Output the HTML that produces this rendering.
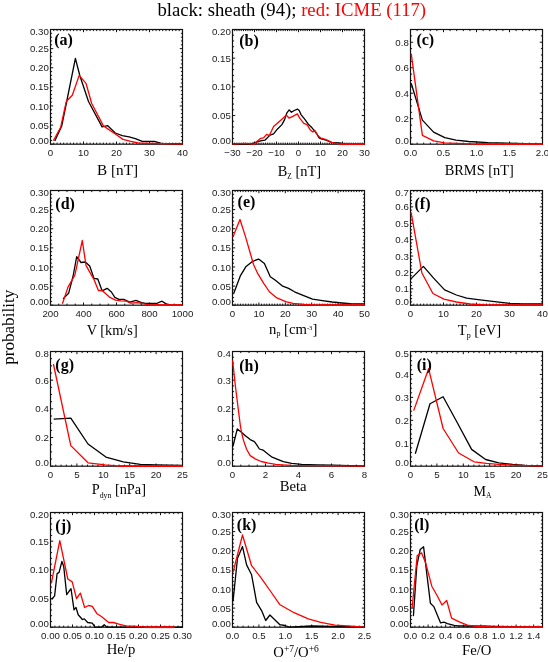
<!DOCTYPE html><html><head><meta charset="utf-8"><style>html,body{margin:0;padding:0;background:#fff;width:548px;height:662px;overflow:hidden}svg{display:block;will-change:transform}.tl{font-family:"Liberation Sans",sans-serif;font-size:9.7px;fill:#1a1a1a}.xt{font-family:"Liberation Serif",serif;font-size:14.7px;fill:#000}.pl{font-family:"Liberation Serif",serif;font-size:16px;font-weight:bold;fill:#000}.mt{font-family:"Liberation Serif",serif;font-size:18.7px;fill:#000}.yl{font-family:"Liberation Serif",serif;font-size:17.1px;fill:#000}</style></head><body>
<svg width="548" height="662" viewBox="0 0 548 662">
<rect width="548" height="662" fill="#fff"/>
<text x="157.4" y="16.4" class="mt">black: sheath (94); <tspan fill="#f00">red: ICME (117)</tspan></text>
<text transform="translate(14.2,327.3) rotate(-90)" text-anchor="middle" class="yl">probability</text>
<g><path d="M50.50 144.20v-2.7M50.50 29.50v2.7M53.80 144.20v-1.6M53.80 29.50v1.6M57.10 144.20v-1.6M57.10 29.50v1.6M60.40 144.20v-1.6M60.40 29.50v1.6M63.70 144.20v-1.6M63.70 29.50v1.6M67.00 144.20v-1.6M67.00 29.50v1.6M70.30 144.20v-1.6M70.30 29.50v1.6M73.60 144.20v-1.6M73.60 29.50v1.6M76.90 144.20v-1.6M76.90 29.50v1.6M80.20 144.20v-1.6M80.20 29.50v1.6M83.50 144.20v-2.7M83.50 29.50v2.7M86.80 144.20v-1.6M86.80 29.50v1.6M90.10 144.20v-1.6M90.10 29.50v1.6M93.40 144.20v-1.6M93.40 29.50v1.6M96.70 144.20v-1.6M96.70 29.50v1.6M100.00 144.20v-1.6M100.00 29.50v1.6M103.30 144.20v-1.6M103.30 29.50v1.6M106.60 144.20v-1.6M106.60 29.50v1.6M109.90 144.20v-1.6M109.90 29.50v1.6M113.20 144.20v-1.6M113.20 29.50v1.6M116.50 144.20v-2.7M116.50 29.50v2.7M119.80 144.20v-1.6M119.80 29.50v1.6M123.10 144.20v-1.6M123.10 29.50v1.6M126.40 144.20v-1.6M126.40 29.50v1.6M129.70 144.20v-1.6M129.70 29.50v1.6M133.00 144.20v-1.6M133.00 29.50v1.6M136.30 144.20v-1.6M136.30 29.50v1.6M139.60 144.20v-1.6M139.60 29.50v1.6M142.90 144.20v-1.6M142.90 29.50v1.6M146.20 144.20v-1.6M146.20 29.50v1.6M149.50 144.20v-2.7M149.50 29.50v2.7M152.80 144.20v-1.6M152.80 29.50v1.6M156.10 144.20v-1.6M156.10 29.50v1.6M159.40 144.20v-1.6M159.40 29.50v1.6M162.70 144.20v-1.6M162.70 29.50v1.6M166.00 144.20v-1.6M166.00 29.50v1.6M169.30 144.20v-1.6M169.30 29.50v1.6M172.60 144.20v-1.6M172.60 29.50v1.6M175.90 144.20v-1.6M175.90 29.50v1.6M179.20 144.20v-1.6M179.20 29.50v1.6M182.50 144.20v-2.7M182.50 29.50v2.7M50.50 144.20h2.7M182.50 144.20h-2.7M50.50 140.38h1.6M182.50 140.38h-1.6M50.50 136.55h1.6M182.50 136.55h-1.6M50.50 132.73h1.6M182.50 132.73h-1.6M50.50 128.91h1.6M182.50 128.91h-1.6M50.50 125.08h2.7M182.50 125.08h-2.7M50.50 121.26h1.6M182.50 121.26h-1.6M50.50 117.44h1.6M182.50 117.44h-1.6M50.50 113.61h1.6M182.50 113.61h-1.6M50.50 109.79h1.6M182.50 109.79h-1.6M50.50 105.97h2.7M182.50 105.97h-2.7M50.50 102.14h1.6M182.50 102.14h-1.6M50.50 98.32h1.6M182.50 98.32h-1.6M50.50 94.50h1.6M182.50 94.50h-1.6M50.50 90.67h1.6M182.50 90.67h-1.6M50.50 86.85h2.7M182.50 86.85h-2.7M50.50 83.03h1.6M182.50 83.03h-1.6M50.50 79.20h1.6M182.50 79.20h-1.6M50.50 75.38h1.6M182.50 75.38h-1.6M50.50 71.56h1.6M182.50 71.56h-1.6M50.50 67.73h2.7M182.50 67.73h-2.7M50.50 63.91h1.6M182.50 63.91h-1.6M50.50 60.09h1.6M182.50 60.09h-1.6M50.50 56.26h1.6M182.50 56.26h-1.6M50.50 52.44h1.6M182.50 52.44h-1.6M50.50 48.62h2.7M182.50 48.62h-2.7M50.50 44.79h1.6M182.50 44.79h-1.6M50.50 40.97h1.6M182.50 40.97h-1.6M50.50 37.15h1.6M182.50 37.15h-1.6M50.50 33.32h1.6M182.50 33.32h-1.6M50.50 29.50h2.7M182.50 29.50h-2.7" stroke="#111" stroke-width="1.0" fill="none"/><rect x="50.5" y="29.5" width="132.0" height="114.7" fill="none" stroke="#111" stroke-width="1.2"/><path d="M54.8 141.0 L61.7 126.0 L66.6 102.0 L75.4 58.4 L79.8 75.5 L88.5 101.5 L102.1 126.9 L107.7 125.7 L115.3 133.0 L122.2 135.6 L129.1 136.8 L135.3 138.7 L142.2 141.4 L154.4 141.4 L161.3 143.3 L182.5 144.2" stroke="#000" stroke-width="1.3" fill="none" stroke-linejoin="round"/><path d="M53.3 140.7 L60.7 127.2 L66.3 101.5 L72.3 95.3 L79.2 75.4 L86.0 83.3 L91.6 103.3 L103.4 125.9 L115.3 134.0 L123.0 139.4 L130.7 141.4 L138.3 143.0 L182.5 144.2" stroke="#f00" stroke-width="1.3" fill="none" stroke-linejoin="round"/><text x="50.50" y="156.27" text-anchor="middle" class="tl">0</text><text x="83.50" y="156.27" text-anchor="middle" class="tl">10</text><text x="116.50" y="156.27" text-anchor="middle" class="tl">20</text><text x="149.50" y="156.27" text-anchor="middle" class="tl">30</text><text x="182.50" y="156.27" text-anchor="middle" class="tl">40</text><text x="48.80" y="144.42" text-anchor="end" class="tl">0.00</text><text x="48.80" y="128.66" text-anchor="end" class="tl">0.05</text><text x="48.80" y="109.54" text-anchor="end" class="tl">0.10</text><text x="48.80" y="90.42" text-anchor="end" class="tl">0.15</text><text x="48.80" y="71.31" text-anchor="end" class="tl">0.20</text><text x="48.80" y="52.19" text-anchor="end" class="tl">0.25</text><text x="48.80" y="35.42" text-anchor="end" class="tl">0.30</text><text x="97.10" y="175.40" class="xt" textLength="40.98" lengthAdjust="spacingAndGlyphs">B [nT]</text><text x="54.20" y="44.50" class="pl">(a)</text></g>
<g><path d="M232.50 144.20v-2.7M232.50 29.50v2.7M234.70 144.20v-1.6M234.70 29.50v1.6M236.90 144.20v-1.6M236.90 29.50v1.6M239.10 144.20v-1.6M239.10 29.50v1.6M241.30 144.20v-1.6M241.30 29.50v1.6M243.50 144.20v-1.6M243.50 29.50v1.6M245.70 144.20v-1.6M245.70 29.50v1.6M247.90 144.20v-1.6M247.90 29.50v1.6M250.10 144.20v-1.6M250.10 29.50v1.6M252.30 144.20v-1.6M252.30 29.50v1.6M254.50 144.20v-2.7M254.50 29.50v2.7M256.70 144.20v-1.6M256.70 29.50v1.6M258.90 144.20v-1.6M258.90 29.50v1.6M261.10 144.20v-1.6M261.10 29.50v1.6M263.30 144.20v-1.6M263.30 29.50v1.6M265.50 144.20v-1.6M265.50 29.50v1.6M267.70 144.20v-1.6M267.70 29.50v1.6M269.90 144.20v-1.6M269.90 29.50v1.6M272.10 144.20v-1.6M272.10 29.50v1.6M274.30 144.20v-1.6M274.30 29.50v1.6M276.50 144.20v-2.7M276.50 29.50v2.7M278.70 144.20v-1.6M278.70 29.50v1.6M280.90 144.20v-1.6M280.90 29.50v1.6M283.10 144.20v-1.6M283.10 29.50v1.6M285.30 144.20v-1.6M285.30 29.50v1.6M287.50 144.20v-1.6M287.50 29.50v1.6M289.70 144.20v-1.6M289.70 29.50v1.6M291.90 144.20v-1.6M291.90 29.50v1.6M294.10 144.20v-1.6M294.10 29.50v1.6M296.30 144.20v-1.6M296.30 29.50v1.6M298.50 144.20v-2.7M298.50 29.50v2.7M300.70 144.20v-1.6M300.70 29.50v1.6M302.90 144.20v-1.6M302.90 29.50v1.6M305.10 144.20v-1.6M305.10 29.50v1.6M307.30 144.20v-1.6M307.30 29.50v1.6M309.50 144.20v-1.6M309.50 29.50v1.6M311.70 144.20v-1.6M311.70 29.50v1.6M313.90 144.20v-1.6M313.90 29.50v1.6M316.10 144.20v-1.6M316.10 29.50v1.6M318.30 144.20v-1.6M318.30 29.50v1.6M320.50 144.20v-2.7M320.50 29.50v2.7M322.70 144.20v-1.6M322.70 29.50v1.6M324.90 144.20v-1.6M324.90 29.50v1.6M327.10 144.20v-1.6M327.10 29.50v1.6M329.30 144.20v-1.6M329.30 29.50v1.6M331.50 144.20v-1.6M331.50 29.50v1.6M333.70 144.20v-1.6M333.70 29.50v1.6M335.90 144.20v-1.6M335.90 29.50v1.6M338.10 144.20v-1.6M338.10 29.50v1.6M340.30 144.20v-1.6M340.30 29.50v1.6M342.50 144.20v-2.7M342.50 29.50v2.7M344.70 144.20v-1.6M344.70 29.50v1.6M346.90 144.20v-1.6M346.90 29.50v1.6M349.10 144.20v-1.6M349.10 29.50v1.6M351.30 144.20v-1.6M351.30 29.50v1.6M353.50 144.20v-1.6M353.50 29.50v1.6M355.70 144.20v-1.6M355.70 29.50v1.6M357.90 144.20v-1.6M357.90 29.50v1.6M360.10 144.20v-1.6M360.10 29.50v1.6M362.30 144.20v-1.6M362.30 29.50v1.6M364.50 144.20v-2.7M364.50 29.50v2.7M232.50 144.20h2.7M364.50 144.20h-2.7M232.50 138.46h1.6M364.50 138.46h-1.6M232.50 132.73h1.6M364.50 132.73h-1.6M232.50 126.99h1.6M364.50 126.99h-1.6M232.50 121.26h1.6M364.50 121.26h-1.6M232.50 115.52h2.7M364.50 115.52h-2.7M232.50 109.79h1.6M364.50 109.79h-1.6M232.50 104.05h1.6M364.50 104.05h-1.6M232.50 98.32h1.6M364.50 98.32h-1.6M232.50 92.58h1.6M364.50 92.58h-1.6M232.50 86.85h2.7M364.50 86.85h-2.7M232.50 81.11h1.6M364.50 81.11h-1.6M232.50 75.38h1.6M364.50 75.38h-1.6M232.50 69.65h1.6M364.50 69.65h-1.6M232.50 63.91h1.6M364.50 63.91h-1.6M232.50 58.17h2.7M364.50 58.17h-2.7M232.50 52.44h1.6M364.50 52.44h-1.6M232.50 46.70h1.6M364.50 46.70h-1.6M232.50 40.97h1.6M364.50 40.97h-1.6M232.50 35.23h1.6M364.50 35.23h-1.6M232.50 29.50h2.7M364.50 29.50h-2.7" stroke="#111" stroke-width="1.0" fill="none"/><rect x="232.5" y="29.5" width="132.0" height="114.7" fill="none" stroke="#111" stroke-width="1.2"/><path d="M232.5 144.2 L239.4 144.2 L244.4 144.2 L250.6 144.2 L255.0 142.7 L260.5 140.9 L264.9 140.2 L270.0 135.1 L273.6 133.8 L277.3 129.2 L281.9 124.6 L284.6 119.6 L286.9 112.8 L289.2 109.9 L291.4 112.3 L294.2 110.5 L297.4 109.1 L299.2 110.5 L301.0 114.6 L304.7 119.2 L308.3 124.2 L312.0 127.8 L314.7 131.0 L316.5 133.5 L319.1 137.9 L321.2 138.8 L326.1 140.2 L331.6 142.4 L338.5 143.0 L348.3 144.2 L364.5 144.2" stroke="#000" stroke-width="1.3" fill="none" stroke-linejoin="round"/><path d="M232.5 144.2 L244.4 143.3 L254.3 144.2 L257.4 140.9 L260.5 138.4 L263.6 137.8 L266.7 134.4 L269.2 135.7 L270.0 134.2 L273.6 126.5 L278.2 122.4 L281.9 119.2 L286.4 115.1 L289.2 118.2 L292.8 116.4 L297.4 113.9 L299.7 118.2 L303.8 123.3 L307.0 124.6 L310.1 129.7 L312.9 131.9 L315.0 130.9 L317.7 135.1 L320.5 137.9 L326.1 139.7 L331.6 142.4 L340.0 144.2 L356.6 144.2 L364.5 144.2" stroke="#f00" stroke-width="1.3" fill="none" stroke-linejoin="round"/><path d="M340.0 144.20H356.6M356.6 144.20H364.5" stroke="#f00" stroke-width="1.8" fill="none"/><text x="232.50" y="156.27" text-anchor="middle" class="tl">−30</text><text x="254.50" y="156.27" text-anchor="middle" class="tl">−20</text><text x="276.50" y="156.27" text-anchor="middle" class="tl">−10</text><text x="298.50" y="156.27" text-anchor="middle" class="tl">0</text><text x="320.50" y="156.27" text-anchor="middle" class="tl">10</text><text x="342.50" y="156.27" text-anchor="middle" class="tl">20</text><text x="364.50" y="156.27" text-anchor="middle" class="tl">30</text><text x="230.80" y="144.42" text-anchor="end" class="tl">0.00</text><text x="230.80" y="119.10" text-anchor="end" class="tl">0.05</text><text x="230.80" y="90.42" text-anchor="end" class="tl">0.10</text><text x="230.80" y="61.75" text-anchor="end" class="tl">0.15</text><text x="230.80" y="35.42" text-anchor="end" class="tl">0.20</text><text x="277.70" y="175.70" class="xt" textLength="43.37" lengthAdjust="spacingAndGlyphs">B<tspan font-size="7.5" dy="3.0">Z</tspan><tspan dy="-3.0"> [nT]</tspan></text><text x="239.25" y="46.40" class="pl">(b)</text></g>
<g><path d="M410.50 144.20v-2.7M410.50 29.50v2.7M417.10 144.20v-1.6M417.10 29.50v1.6M423.70 144.20v-1.6M423.70 29.50v1.6M430.30 144.20v-1.6M430.30 29.50v1.6M436.90 144.20v-1.6M436.90 29.50v1.6M443.50 144.20v-2.7M443.50 29.50v2.7M450.10 144.20v-1.6M450.10 29.50v1.6M456.70 144.20v-1.6M456.70 29.50v1.6M463.30 144.20v-1.6M463.30 29.50v1.6M469.90 144.20v-1.6M469.90 29.50v1.6M476.50 144.20v-2.7M476.50 29.50v2.7M483.10 144.20v-1.6M483.10 29.50v1.6M489.70 144.20v-1.6M489.70 29.50v1.6M496.30 144.20v-1.6M496.30 29.50v1.6M502.90 144.20v-1.6M502.90 29.50v1.6M509.50 144.20v-2.7M509.50 29.50v2.7M516.10 144.20v-1.6M516.10 29.50v1.6M522.70 144.20v-1.6M522.70 29.50v1.6M529.30 144.20v-1.6M529.30 29.50v1.6M535.90 144.20v-1.6M535.90 29.50v1.6M542.50 144.20v-2.7M542.50 29.50v2.7M410.50 144.20h2.7M542.50 144.20h-2.7M410.50 137.83h1.6M542.50 137.83h-1.6M410.50 131.46h1.6M542.50 131.46h-1.6M410.50 125.08h1.6M542.50 125.08h-1.6M410.50 118.71h2.7M542.50 118.71h-2.7M410.50 112.34h1.6M542.50 112.34h-1.6M410.50 105.97h1.6M542.50 105.97h-1.6M410.50 99.59h1.6M542.50 99.59h-1.6M410.50 93.22h2.7M542.50 93.22h-2.7M410.50 86.85h1.6M542.50 86.85h-1.6M410.50 80.48h1.6M542.50 80.48h-1.6M410.50 74.11h1.6M542.50 74.11h-1.6M410.50 67.73h2.7M542.50 67.73h-2.7M410.50 61.36h1.6M542.50 61.36h-1.6M410.50 54.99h1.6M542.50 54.99h-1.6M410.50 48.62h1.6M542.50 48.62h-1.6M410.50 42.24h2.7M542.50 42.24h-2.7M410.50 35.87h1.6M542.50 35.87h-1.6M410.50 29.50h1.6M542.50 29.50h-1.6" stroke="#111" stroke-width="1.0" fill="none"/><rect x="410.5" y="29.5" width="132.0" height="114.7" fill="none" stroke="#111" stroke-width="1.2"/><path d="M411.2 83.2 L422.4 120.1 L433.6 132.1 L444.8 137.7 L456.0 140.1 L468.7 141.5 L487.9 142.6 L507.0 143.2 L542.5 144.2" stroke="#000" stroke-width="1.3" fill="none" stroke-linejoin="round"/><path d="M411.2 53.6 L422.4 135.3 L433.6 140.9 L444.8 142.8 L476.0 144.2 L542.5 144.2" stroke="#f00" stroke-width="1.3" fill="none" stroke-linejoin="round"/><path d="M476.0 144.20H542.5" stroke="#f00" stroke-width="1.8" fill="none"/><text x="410.50" y="156.27" text-anchor="middle" class="tl">0.0</text><text x="443.50" y="156.27" text-anchor="middle" class="tl">0.5</text><text x="476.50" y="156.27" text-anchor="middle" class="tl">1.0</text><text x="509.50" y="156.27" text-anchor="middle" class="tl">1.5</text><text x="542.50" y="156.27" text-anchor="middle" class="tl">2.0</text><text x="408.80" y="144.42" text-anchor="end" class="tl">0.0</text><text x="408.80" y="122.28" text-anchor="end" class="tl">0.2</text><text x="408.80" y="96.79" text-anchor="end" class="tl">0.4</text><text x="408.80" y="71.31" text-anchor="end" class="tl">0.6</text><text x="408.80" y="45.82" text-anchor="end" class="tl">0.8</text><text x="444.70" y="174.70" class="xt" textLength="69.09" lengthAdjust="spacingAndGlyphs">BRMS [nT]</text><text x="416.40" y="45.10" class="pl">(c)</text></g>
<g><path d="M50.50 305.20v-2.7M50.50 190.50v2.7M58.75 305.20v-1.6M58.75 190.50v1.6M67.00 305.20v-1.6M67.00 190.50v1.6M75.25 305.20v-1.6M75.25 190.50v1.6M83.50 305.20v-2.7M83.50 190.50v2.7M91.75 305.20v-1.6M91.75 190.50v1.6M100.00 305.20v-1.6M100.00 190.50v1.6M108.25 305.20v-1.6M108.25 190.50v1.6M116.50 305.20v-2.7M116.50 190.50v2.7M124.75 305.20v-1.6M124.75 190.50v1.6M133.00 305.20v-1.6M133.00 190.50v1.6M141.25 305.20v-1.6M141.25 190.50v1.6M149.50 305.20v-2.7M149.50 190.50v2.7M157.75 305.20v-1.6M157.75 190.50v1.6M166.00 305.20v-1.6M166.00 190.50v1.6M174.25 305.20v-1.6M174.25 190.50v1.6M182.50 305.20v-2.7M182.50 190.50v2.7M50.50 305.20h2.7M182.50 305.20h-2.7M50.50 301.38h1.6M182.50 301.38h-1.6M50.50 297.55h1.6M182.50 297.55h-1.6M50.50 293.73h1.6M182.50 293.73h-1.6M50.50 289.91h1.6M182.50 289.91h-1.6M50.50 286.08h2.7M182.50 286.08h-2.7M50.50 282.26h1.6M182.50 282.26h-1.6M50.50 278.44h1.6M182.50 278.44h-1.6M50.50 274.61h1.6M182.50 274.61h-1.6M50.50 270.79h1.6M182.50 270.79h-1.6M50.50 266.97h2.7M182.50 266.97h-2.7M50.50 263.14h1.6M182.50 263.14h-1.6M50.50 259.32h1.6M182.50 259.32h-1.6M50.50 255.50h1.6M182.50 255.50h-1.6M50.50 251.67h1.6M182.50 251.67h-1.6M50.50 247.85h2.7M182.50 247.85h-2.7M50.50 244.03h1.6M182.50 244.03h-1.6M50.50 240.20h1.6M182.50 240.20h-1.6M50.50 236.38h1.6M182.50 236.38h-1.6M50.50 232.56h1.6M182.50 232.56h-1.6M50.50 228.73h2.7M182.50 228.73h-2.7M50.50 224.91h1.6M182.50 224.91h-1.6M50.50 221.09h1.6M182.50 221.09h-1.6M50.50 217.26h1.6M182.50 217.26h-1.6M50.50 213.44h1.6M182.50 213.44h-1.6M50.50 209.62h2.7M182.50 209.62h-2.7M50.50 205.79h1.6M182.50 205.79h-1.6M50.50 201.97h1.6M182.50 201.97h-1.6M50.50 198.15h1.6M182.50 198.15h-1.6M50.50 194.32h1.6M182.50 194.32h-1.6M50.50 190.50h2.7M182.50 190.50h-2.7" stroke="#111" stroke-width="1.0" fill="none"/><rect x="50.5" y="190.5" width="132.0" height="114.7" fill="none" stroke="#111" stroke-width="1.2"/><path d="M63.0 298.9 L68.6 293.3 L73.0 276.5 L76.7 256.7 L81.0 262.5 L85.4 262.0 L89.7 266.0 L94.0 278.4 L97.8 279.0 L102.1 290.8 L107.1 288.3 L111.4 292.0 L114.8 297.4 L118.9 299.4 L123.7 299.4 L129.8 302.1 L136.0 300.4 L141.5 302.6 L145.6 303.5 L156.5 303.5 L162.0 301.2 L166.1 303.9 L171.6 305.2 L182.5 305.2" stroke="#000" stroke-width="1.3" fill="none" stroke-linejoin="round"/><path d="M62.4 303.8 L68.0 287.1 L74.8 275.3 L82.3 240.5 L86.0 265.4 L94.0 279.6 L98.4 290.5 L102.1 290.5 L110.0 297.4 L115.5 300.1 L120.9 300.8 L126.4 301.2 L130.5 303.1 L137.4 302.6 L144.2 303.9 L151.0 305.2 L157.9 305.2 L182.5 305.2" stroke="#f00" stroke-width="1.3" fill="none" stroke-linejoin="round"/><path d="M151.0 305.20H157.9M157.9 305.20H182.5" stroke="#f00" stroke-width="1.8" fill="none"/><text x="50.50" y="317.27" text-anchor="middle" class="tl">200</text><text x="83.50" y="317.27" text-anchor="middle" class="tl">400</text><text x="116.50" y="317.27" text-anchor="middle" class="tl">600</text><text x="149.50" y="317.27" text-anchor="middle" class="tl">800</text><text x="182.50" y="317.27" text-anchor="middle" class="tl">1000</text><text x="48.80" y="305.42" text-anchor="end" class="tl">0.00</text><text x="48.80" y="289.66" text-anchor="end" class="tl">0.05</text><text x="48.80" y="270.54" text-anchor="end" class="tl">0.10</text><text x="48.80" y="251.42" text-anchor="end" class="tl">0.15</text><text x="48.80" y="232.31" text-anchor="end" class="tl">0.20</text><text x="48.80" y="213.19" text-anchor="end" class="tl">0.25</text><text x="48.80" y="196.42" text-anchor="end" class="tl">0.30</text><text x="86.70" y="335.40" class="xt" textLength="50.98" lengthAdjust="spacingAndGlyphs">V [km/s]</text><text x="55.30" y="209.10" class="pl">(d)</text></g>
<g><path d="M232.50 305.20v-2.7M232.50 190.50v2.7M235.14 305.20v-1.6M235.14 190.50v1.6M237.78 305.20v-1.6M237.78 190.50v1.6M240.42 305.20v-1.6M240.42 190.50v1.6M243.06 305.20v-1.6M243.06 190.50v1.6M245.70 305.20v-1.6M245.70 190.50v1.6M248.34 305.20v-1.6M248.34 190.50v1.6M250.98 305.20v-1.6M250.98 190.50v1.6M253.62 305.20v-1.6M253.62 190.50v1.6M256.26 305.20v-1.6M256.26 190.50v1.6M258.90 305.20v-2.7M258.90 190.50v2.7M261.54 305.20v-1.6M261.54 190.50v1.6M264.18 305.20v-1.6M264.18 190.50v1.6M266.82 305.20v-1.6M266.82 190.50v1.6M269.46 305.20v-1.6M269.46 190.50v1.6M272.10 305.20v-1.6M272.10 190.50v1.6M274.74 305.20v-1.6M274.74 190.50v1.6M277.38 305.20v-1.6M277.38 190.50v1.6M280.02 305.20v-1.6M280.02 190.50v1.6M282.66 305.20v-1.6M282.66 190.50v1.6M285.30 305.20v-2.7M285.30 190.50v2.7M287.94 305.20v-1.6M287.94 190.50v1.6M290.58 305.20v-1.6M290.58 190.50v1.6M293.22 305.20v-1.6M293.22 190.50v1.6M295.86 305.20v-1.6M295.86 190.50v1.6M298.50 305.20v-1.6M298.50 190.50v1.6M301.14 305.20v-1.6M301.14 190.50v1.6M303.78 305.20v-1.6M303.78 190.50v1.6M306.42 305.20v-1.6M306.42 190.50v1.6M309.06 305.20v-1.6M309.06 190.50v1.6M311.70 305.20v-2.7M311.70 190.50v2.7M314.34 305.20v-1.6M314.34 190.50v1.6M316.98 305.20v-1.6M316.98 190.50v1.6M319.62 305.20v-1.6M319.62 190.50v1.6M322.26 305.20v-1.6M322.26 190.50v1.6M324.90 305.20v-1.6M324.90 190.50v1.6M327.54 305.20v-1.6M327.54 190.50v1.6M330.18 305.20v-1.6M330.18 190.50v1.6M332.82 305.20v-1.6M332.82 190.50v1.6M335.46 305.20v-1.6M335.46 190.50v1.6M338.10 305.20v-2.7M338.10 190.50v2.7M340.74 305.20v-1.6M340.74 190.50v1.6M343.38 305.20v-1.6M343.38 190.50v1.6M346.02 305.20v-1.6M346.02 190.50v1.6M348.66 305.20v-1.6M348.66 190.50v1.6M351.30 305.20v-1.6M351.30 190.50v1.6M353.94 305.20v-1.6M353.94 190.50v1.6M356.58 305.20v-1.6M356.58 190.50v1.6M359.22 305.20v-1.6M359.22 190.50v1.6M361.86 305.20v-1.6M361.86 190.50v1.6M364.50 305.20v-2.7M364.50 190.50v2.7M232.50 305.20h2.7M364.50 305.20h-2.7M232.50 301.38h1.6M364.50 301.38h-1.6M232.50 297.55h1.6M364.50 297.55h-1.6M232.50 293.73h1.6M364.50 293.73h-1.6M232.50 289.91h1.6M364.50 289.91h-1.6M232.50 286.08h2.7M364.50 286.08h-2.7M232.50 282.26h1.6M364.50 282.26h-1.6M232.50 278.44h1.6M364.50 278.44h-1.6M232.50 274.61h1.6M364.50 274.61h-1.6M232.50 270.79h1.6M364.50 270.79h-1.6M232.50 266.97h2.7M364.50 266.97h-2.7M232.50 263.14h1.6M364.50 263.14h-1.6M232.50 259.32h1.6M364.50 259.32h-1.6M232.50 255.50h1.6M364.50 255.50h-1.6M232.50 251.67h1.6M364.50 251.67h-1.6M232.50 247.85h2.7M364.50 247.85h-2.7M232.50 244.03h1.6M364.50 244.03h-1.6M232.50 240.20h1.6M364.50 240.20h-1.6M232.50 236.38h1.6M364.50 236.38h-1.6M232.50 232.56h1.6M364.50 232.56h-1.6M232.50 228.73h2.7M364.50 228.73h-2.7M232.50 224.91h1.6M364.50 224.91h-1.6M232.50 221.09h1.6M364.50 221.09h-1.6M232.50 217.26h1.6M364.50 217.26h-1.6M232.50 213.44h1.6M364.50 213.44h-1.6M232.50 209.62h2.7M364.50 209.62h-2.7M232.50 205.79h1.6M364.50 205.79h-1.6M232.50 201.97h1.6M364.50 201.97h-1.6M232.50 198.15h1.6M364.50 198.15h-1.6M232.50 194.32h1.6M364.50 194.32h-1.6M232.50 190.50h2.7M364.50 190.50h-2.7" stroke="#111" stroke-width="1.0" fill="none"/><rect x="232.5" y="190.5" width="132.0" height="114.7" fill="none" stroke="#111" stroke-width="1.2"/><path d="M233.7 293.5 L240.3 275.9 L246.1 266.4 L252.7 261.3 L258.6 259.1 L264.4 263.5 L270.3 276.7 L275.4 280.3 L282.7 286.2 L288.6 288.4 L294.5 291.8 L301.2 294.6 L312.5 299.1 L322.3 300.6 L332.2 302.0 L342.0 303.0 L350.4 303.7 L364.5 303.9" stroke="#000" stroke-width="1.3" fill="none" stroke-linejoin="round"/><path d="M232.9 237.1 L240.0 219.5 L245.4 236.4 L250.5 254.0 L253.4 264.2 L257.8 273.7 L263.7 283.3 L269.6 292.0 L276.9 297.9 L285.7 301.6 L293.0 303.3 L304.0 304.4 L320.0 305.2 L364.5 305.2" stroke="#f00" stroke-width="1.3" fill="none" stroke-linejoin="round"/><path d="M320.0 305.20H364.5" stroke="#f00" stroke-width="1.8" fill="none"/><text x="232.50" y="317.27" text-anchor="middle" class="tl">0</text><text x="258.90" y="317.27" text-anchor="middle" class="tl">10</text><text x="285.30" y="317.27" text-anchor="middle" class="tl">20</text><text x="311.70" y="317.27" text-anchor="middle" class="tl">30</text><text x="338.10" y="317.27" text-anchor="middle" class="tl">40</text><text x="364.50" y="317.27" text-anchor="middle" class="tl">50</text><text x="230.80" y="305.42" text-anchor="end" class="tl">0.00</text><text x="230.80" y="289.66" text-anchor="end" class="tl">0.05</text><text x="230.80" y="270.54" text-anchor="end" class="tl">0.10</text><text x="230.80" y="251.42" text-anchor="end" class="tl">0.15</text><text x="230.80" y="232.31" text-anchor="end" class="tl">0.20</text><text x="230.80" y="213.19" text-anchor="end" class="tl">0.25</text><text x="230.80" y="196.42" text-anchor="end" class="tl">0.30</text><text x="269.10" y="334.30" class="xt">n<tspan font-size="8" dy="1.5">p</tspan><tspan dy="-1.5"> [cm</tspan><tspan font-size="6.5" dy="-4.5">-3</tspan><tspan dy="4.5">]</tspan></text><text x="237.60" y="206.60" class="pl">(e)</text></g>
<g><path d="M410.50 305.20v-2.7M410.50 190.50v2.7M413.80 305.20v-1.6M413.80 190.50v1.6M417.10 305.20v-1.6M417.10 190.50v1.6M420.40 305.20v-1.6M420.40 190.50v1.6M423.70 305.20v-1.6M423.70 190.50v1.6M427.00 305.20v-1.6M427.00 190.50v1.6M430.30 305.20v-1.6M430.30 190.50v1.6M433.60 305.20v-1.6M433.60 190.50v1.6M436.90 305.20v-1.6M436.90 190.50v1.6M440.20 305.20v-1.6M440.20 190.50v1.6M443.50 305.20v-2.7M443.50 190.50v2.7M446.80 305.20v-1.6M446.80 190.50v1.6M450.10 305.20v-1.6M450.10 190.50v1.6M453.40 305.20v-1.6M453.40 190.50v1.6M456.70 305.20v-1.6M456.70 190.50v1.6M460.00 305.20v-1.6M460.00 190.50v1.6M463.30 305.20v-1.6M463.30 190.50v1.6M466.60 305.20v-1.6M466.60 190.50v1.6M469.90 305.20v-1.6M469.90 190.50v1.6M473.20 305.20v-1.6M473.20 190.50v1.6M476.50 305.20v-2.7M476.50 190.50v2.7M479.80 305.20v-1.6M479.80 190.50v1.6M483.10 305.20v-1.6M483.10 190.50v1.6M486.40 305.20v-1.6M486.40 190.50v1.6M489.70 305.20v-1.6M489.70 190.50v1.6M493.00 305.20v-1.6M493.00 190.50v1.6M496.30 305.20v-1.6M496.30 190.50v1.6M499.60 305.20v-1.6M499.60 190.50v1.6M502.90 305.20v-1.6M502.90 190.50v1.6M506.20 305.20v-1.6M506.20 190.50v1.6M509.50 305.20v-2.7M509.50 190.50v2.7M512.80 305.20v-1.6M512.80 190.50v1.6M516.10 305.20v-1.6M516.10 190.50v1.6M519.40 305.20v-1.6M519.40 190.50v1.6M522.70 305.20v-1.6M522.70 190.50v1.6M526.00 305.20v-1.6M526.00 190.50v1.6M529.30 305.20v-1.6M529.30 190.50v1.6M532.60 305.20v-1.6M532.60 190.50v1.6M535.90 305.20v-1.6M535.90 190.50v1.6M539.20 305.20v-1.6M539.20 190.50v1.6M542.50 305.20v-2.7M542.50 190.50v2.7M410.50 305.20h2.7M542.50 305.20h-2.7M410.50 301.92h1.6M542.50 301.92h-1.6M410.50 298.65h1.6M542.50 298.65h-1.6M410.50 295.37h1.6M542.50 295.37h-1.6M410.50 292.09h1.6M542.50 292.09h-1.6M410.50 288.81h2.7M542.50 288.81h-2.7M410.50 285.54h1.6M542.50 285.54h-1.6M410.50 282.26h1.6M542.50 282.26h-1.6M410.50 278.98h1.6M542.50 278.98h-1.6M410.50 275.71h1.6M542.50 275.71h-1.6M410.50 272.43h2.7M542.50 272.43h-2.7M410.50 269.15h1.6M542.50 269.15h-1.6M410.50 265.87h1.6M542.50 265.87h-1.6M410.50 262.60h1.6M542.50 262.60h-1.6M410.50 259.32h1.6M542.50 259.32h-1.6M410.50 256.04h2.7M542.50 256.04h-2.7M410.50 252.77h1.6M542.50 252.77h-1.6M410.50 249.49h1.6M542.50 249.49h-1.6M410.50 246.21h1.6M542.50 246.21h-1.6M410.50 242.93h1.6M542.50 242.93h-1.6M410.50 239.66h2.7M542.50 239.66h-2.7M410.50 236.38h1.6M542.50 236.38h-1.6M410.50 233.10h1.6M542.50 233.10h-1.6M410.50 229.83h1.6M542.50 229.83h-1.6M410.50 226.55h1.6M542.50 226.55h-1.6M410.50 223.27h2.7M542.50 223.27h-2.7M410.50 219.99h1.6M542.50 219.99h-1.6M410.50 216.72h1.6M542.50 216.72h-1.6M410.50 213.44h1.6M542.50 213.44h-1.6M410.50 210.16h1.6M542.50 210.16h-1.6M410.50 206.89h2.7M542.50 206.89h-2.7M410.50 203.61h1.6M542.50 203.61h-1.6M410.50 200.33h1.6M542.50 200.33h-1.6M410.50 197.05h1.6M542.50 197.05h-1.6M410.50 193.78h1.6M542.50 193.78h-1.6M410.50 190.50h2.7M542.50 190.50h-2.7" stroke="#111" stroke-width="1.0" fill="none"/><rect x="410.5" y="190.5" width="132.0" height="114.7" fill="none" stroke="#111" stroke-width="1.2"/><path d="M410.9 278.9 L423.4 266.4 L433.6 278.1 L444.6 289.9 L456.4 295.0 L466.6 298.2 L478.0 299.7 L490.5 301.2 L509.7 303.3 L522.0 303.9 L542.5 303.9" stroke="#000" stroke-width="1.3" fill="none" stroke-linejoin="round"/><path d="M411.1 212.4 L421.9 273.0 L432.9 293.5 L443.9 299.1 L456.4 302.0 L470.0 304.0 L490.0 305.2 L542.5 305.2" stroke="#f00" stroke-width="1.3" fill="none" stroke-linejoin="round"/><path d="M490.0 305.20H542.5" stroke="#f00" stroke-width="1.8" fill="none"/><text x="410.50" y="317.27" text-anchor="middle" class="tl">0</text><text x="443.50" y="317.27" text-anchor="middle" class="tl">10</text><text x="476.50" y="317.27" text-anchor="middle" class="tl">20</text><text x="509.50" y="317.27" text-anchor="middle" class="tl">30</text><text x="542.50" y="317.27" text-anchor="middle" class="tl">40</text><text x="408.80" y="305.42" text-anchor="end" class="tl">0.0</text><text x="408.80" y="292.39" text-anchor="end" class="tl">0.1</text><text x="408.80" y="276.00" text-anchor="end" class="tl">0.2</text><text x="408.80" y="259.62" text-anchor="end" class="tl">0.3</text><text x="408.80" y="243.23" text-anchor="end" class="tl">0.4</text><text x="408.80" y="226.84" text-anchor="end" class="tl">0.5</text><text x="408.80" y="210.46" text-anchor="end" class="tl">0.6</text><text x="408.80" y="196.42" text-anchor="end" class="tl">0.7</text><text x="457.70" y="334.70" class="xt">T<tspan font-size="8" dy="3.2">p</tspan><tspan dy="-3.2"> [eV]</tspan></text><text x="414.50" y="209.10" class="pl">(f)</text></g>
<g><path d="M50.50 466.20v-2.7M50.50 351.50v2.7M55.78 466.20v-1.6M55.78 351.50v1.6M61.06 466.20v-1.6M61.06 351.50v1.6M66.34 466.20v-1.6M66.34 351.50v1.6M71.62 466.20v-1.6M71.62 351.50v1.6M76.90 466.20v-2.7M76.90 351.50v2.7M82.18 466.20v-1.6M82.18 351.50v1.6M87.46 466.20v-1.6M87.46 351.50v1.6M92.74 466.20v-1.6M92.74 351.50v1.6M98.02 466.20v-1.6M98.02 351.50v1.6M103.30 466.20v-2.7M103.30 351.50v2.7M108.58 466.20v-1.6M108.58 351.50v1.6M113.86 466.20v-1.6M113.86 351.50v1.6M119.14 466.20v-1.6M119.14 351.50v1.6M124.42 466.20v-1.6M124.42 351.50v1.6M129.70 466.20v-2.7M129.70 351.50v2.7M134.98 466.20v-1.6M134.98 351.50v1.6M140.26 466.20v-1.6M140.26 351.50v1.6M145.54 466.20v-1.6M145.54 351.50v1.6M150.82 466.20v-1.6M150.82 351.50v1.6M156.10 466.20v-2.7M156.10 351.50v2.7M161.38 466.20v-1.6M161.38 351.50v1.6M166.66 466.20v-1.6M166.66 351.50v1.6M171.94 466.20v-1.6M171.94 351.50v1.6M177.22 466.20v-1.6M177.22 351.50v1.6M182.50 466.20v-2.7M182.50 351.50v2.7M50.50 466.20h2.7M182.50 466.20h-2.7M50.50 459.03h1.6M182.50 459.03h-1.6M50.50 451.86h1.6M182.50 451.86h-1.6M50.50 444.69h1.6M182.50 444.69h-1.6M50.50 437.52h2.7M182.50 437.52h-2.7M50.50 430.36h1.6M182.50 430.36h-1.6M50.50 423.19h1.6M182.50 423.19h-1.6M50.50 416.02h1.6M182.50 416.02h-1.6M50.50 408.85h2.7M182.50 408.85h-2.7M50.50 401.68h1.6M182.50 401.68h-1.6M50.50 394.51h1.6M182.50 394.51h-1.6M50.50 387.34h1.6M182.50 387.34h-1.6M50.50 380.18h2.7M182.50 380.18h-2.7M50.50 373.01h1.6M182.50 373.01h-1.6M50.50 365.84h1.6M182.50 365.84h-1.6M50.50 358.67h1.6M182.50 358.67h-1.6M50.50 351.50h2.7M182.50 351.50h-2.7" stroke="#111" stroke-width="1.0" fill="none"/><rect x="50.5" y="351.5" width="132.0" height="114.7" fill="none" stroke="#111" stroke-width="1.2"/><path d="M53.7 419.1 L70.8 418.2 L88.0 444.0 L105.9 457.1 L123.3 461.8 L140.3 464.4 L155.8 464.9 L182.5 465.4" stroke="#000" stroke-width="1.3" fill="none" stroke-linejoin="round"/><path d="M53.4 364.0 L70.8 445.6 L88.0 462.8 L105.1 464.9 L120.0 466.2 L182.5 466.2" stroke="#f00" stroke-width="1.3" fill="none" stroke-linejoin="round"/><path d="M120.0 466.20H182.5" stroke="#f00" stroke-width="1.8" fill="none"/><text x="50.50" y="478.27" text-anchor="middle" class="tl">0</text><text x="76.90" y="478.27" text-anchor="middle" class="tl">5</text><text x="103.30" y="478.27" text-anchor="middle" class="tl">10</text><text x="129.70" y="478.27" text-anchor="middle" class="tl">15</text><text x="156.10" y="478.27" text-anchor="middle" class="tl">20</text><text x="182.50" y="478.27" text-anchor="middle" class="tl">25</text><text x="48.80" y="466.42" text-anchor="end" class="tl">0.0</text><text x="48.80" y="441.10" text-anchor="end" class="tl">0.2</text><text x="48.80" y="412.42" text-anchor="end" class="tl">0.4</text><text x="48.80" y="383.75" text-anchor="end" class="tl">0.6</text><text x="48.80" y="357.42" text-anchor="end" class="tl">0.8</text><text x="91.70" y="494.30" class="xt" textLength="54.27" lengthAdjust="spacingAndGlyphs">P<tspan font-size="8" dy="3.4">dyn</tspan><tspan dy="-3.4"> [nPa]</tspan></text><text x="55.30" y="369.50" class="pl">(g)</text></g>
<g><path d="M232.50 466.20v-2.7M232.50 351.50v2.7M240.75 466.20v-1.6M240.75 351.50v1.6M249.00 466.20v-1.6M249.00 351.50v1.6M257.25 466.20v-1.6M257.25 351.50v1.6M265.50 466.20v-2.7M265.50 351.50v2.7M273.75 466.20v-1.6M273.75 351.50v1.6M282.00 466.20v-1.6M282.00 351.50v1.6M290.25 466.20v-1.6M290.25 351.50v1.6M298.50 466.20v-2.7M298.50 351.50v2.7M306.75 466.20v-1.6M306.75 351.50v1.6M315.00 466.20v-1.6M315.00 351.50v1.6M323.25 466.20v-1.6M323.25 351.50v1.6M331.50 466.20v-2.7M331.50 351.50v2.7M339.75 466.20v-1.6M339.75 351.50v1.6M348.00 466.20v-1.6M348.00 351.50v1.6M356.25 466.20v-1.6M356.25 351.50v1.6M364.50 466.20v-2.7M364.50 351.50v2.7M232.50 466.20h2.7M364.50 466.20h-2.7M232.50 460.46h1.6M364.50 460.46h-1.6M232.50 454.73h1.6M364.50 454.73h-1.6M232.50 449.00h1.6M364.50 449.00h-1.6M232.50 443.26h1.6M364.50 443.26h-1.6M232.50 437.52h2.7M364.50 437.52h-2.7M232.50 431.79h1.6M364.50 431.79h-1.6M232.50 426.06h1.6M364.50 426.06h-1.6M232.50 420.32h1.6M364.50 420.32h-1.6M232.50 414.58h1.6M364.50 414.58h-1.6M232.50 408.85h2.7M364.50 408.85h-2.7M232.50 403.12h1.6M364.50 403.12h-1.6M232.50 397.38h1.6M364.50 397.38h-1.6M232.50 391.64h1.6M364.50 391.64h-1.6M232.50 385.91h1.6M364.50 385.91h-1.6M232.50 380.18h2.7M364.50 380.18h-2.7M232.50 374.44h1.6M364.50 374.44h-1.6M232.50 368.70h1.6M364.50 368.70h-1.6M232.50 362.97h1.6M364.50 362.97h-1.6M232.50 357.24h1.6M364.50 357.24h-1.6M232.50 351.50h2.7M364.50 351.50h-2.7" stroke="#111" stroke-width="1.0" fill="none"/><rect x="232.5" y="351.5" width="132.0" height="114.7" fill="none" stroke="#111" stroke-width="1.2"/><path d="M232.9 446.5 L237.3 428.9 L241.1 431.9 L245.7 436.0 L250.2 439.6 L254.4 441.7 L256.6 444.6 L259.4 449.0 L263.0 450.1 L267.6 453.8 L272.1 457.2 L277.6 459.4 L283.3 461.6 L291.6 463.3 L301.6 464.4 L316.5 464.9 L333.1 465.2 L364.5 466.2" stroke="#000" stroke-width="1.3" fill="none" stroke-linejoin="round"/><path d="M232.6 360.4 L235.3 385.2 L238.3 409.4 L240.4 426.0 L241.3 431.0 L243.4 440.1 L246.6 449.2 L250.2 455.6 L255.7 459.2 L261.2 461.5 L268.5 463.1 L275.8 464.3 L282.0 464.8 L291.6 465.4 L364.5 466.2" stroke="#f00" stroke-width="1.3" fill="none" stroke-linejoin="round"/><text x="232.50" y="478.27" text-anchor="middle" class="tl">0</text><text x="265.50" y="478.27" text-anchor="middle" class="tl">2</text><text x="298.50" y="478.27" text-anchor="middle" class="tl">4</text><text x="331.50" y="478.27" text-anchor="middle" class="tl">6</text><text x="364.50" y="478.27" text-anchor="middle" class="tl">8</text><text x="230.80" y="466.42" text-anchor="end" class="tl">0.0</text><text x="230.80" y="441.10" text-anchor="end" class="tl">0.1</text><text x="230.80" y="412.42" text-anchor="end" class="tl">0.2</text><text x="230.80" y="383.75" text-anchor="end" class="tl">0.3</text><text x="230.80" y="357.42" text-anchor="end" class="tl">0.4</text><text x="279.70" y="491.30" class="xt">Beta</text><text x="239.20" y="370.60" class="pl">(h)</text></g>
<g><path d="M410.50 466.20v-2.7M410.50 351.50v2.7M415.78 466.20v-1.6M415.78 351.50v1.6M421.06 466.20v-1.6M421.06 351.50v1.6M426.34 466.20v-1.6M426.34 351.50v1.6M431.62 466.20v-1.6M431.62 351.50v1.6M436.90 466.20v-2.7M436.90 351.50v2.7M442.18 466.20v-1.6M442.18 351.50v1.6M447.46 466.20v-1.6M447.46 351.50v1.6M452.74 466.20v-1.6M452.74 351.50v1.6M458.02 466.20v-1.6M458.02 351.50v1.6M463.30 466.20v-2.7M463.30 351.50v2.7M468.58 466.20v-1.6M468.58 351.50v1.6M473.86 466.20v-1.6M473.86 351.50v1.6M479.14 466.20v-1.6M479.14 351.50v1.6M484.42 466.20v-1.6M484.42 351.50v1.6M489.70 466.20v-2.7M489.70 351.50v2.7M494.98 466.20v-1.6M494.98 351.50v1.6M500.26 466.20v-1.6M500.26 351.50v1.6M505.54 466.20v-1.6M505.54 351.50v1.6M510.82 466.20v-1.6M510.82 351.50v1.6M516.10 466.20v-2.7M516.10 351.50v2.7M521.38 466.20v-1.6M521.38 351.50v1.6M526.66 466.20v-1.6M526.66 351.50v1.6M531.94 466.20v-1.6M531.94 351.50v1.6M537.22 466.20v-1.6M537.22 351.50v1.6M542.50 466.20v-2.7M542.50 351.50v2.7M410.50 466.20h2.7M542.50 466.20h-2.7M410.50 461.61h1.6M542.50 461.61h-1.6M410.50 457.02h1.6M542.50 457.02h-1.6M410.50 452.44h1.6M542.50 452.44h-1.6M410.50 447.85h1.6M542.50 447.85h-1.6M410.50 443.26h2.7M542.50 443.26h-2.7M410.50 438.67h1.6M542.50 438.67h-1.6M410.50 434.08h1.6M542.50 434.08h-1.6M410.50 429.50h1.6M542.50 429.50h-1.6M410.50 424.91h1.6M542.50 424.91h-1.6M410.50 420.32h2.7M542.50 420.32h-2.7M410.50 415.73h1.6M542.50 415.73h-1.6M410.50 411.14h1.6M542.50 411.14h-1.6M410.50 406.56h1.6M542.50 406.56h-1.6M410.50 401.97h1.6M542.50 401.97h-1.6M410.50 397.38h2.7M542.50 397.38h-2.7M410.50 392.79h1.6M542.50 392.79h-1.6M410.50 388.20h1.6M542.50 388.20h-1.6M410.50 383.62h1.6M542.50 383.62h-1.6M410.50 379.03h1.6M542.50 379.03h-1.6M410.50 374.44h2.7M542.50 374.44h-2.7M410.50 369.85h1.6M542.50 369.85h-1.6M410.50 365.26h1.6M542.50 365.26h-1.6M410.50 360.68h1.6M542.50 360.68h-1.6M410.50 356.09h1.6M542.50 356.09h-1.6M410.50 351.50h2.7M542.50 351.50h-2.7" stroke="#111" stroke-width="1.0" fill="none"/><rect x="410.5" y="351.5" width="132.0" height="114.7" fill="none" stroke="#111" stroke-width="1.2"/><path d="M415.3 453.8 L430.0 403.7 L443.1 396.7 L456.9 422.0 L471.6 449.4 L485.6 459.5 L498.8 462.9 L512.7 464.4 L525.1 465.4 L542.5 466.2" stroke="#000" stroke-width="1.3" fill="none" stroke-linejoin="round"/><path d="M413.7 410.6 L428.6 368.7 L443.1 428.5 L458.6 453.0 L474.0 461.8 L486.4 463.3 L498.8 464.4 L512.7 465.1 L542.5 466.2" stroke="#f00" stroke-width="1.3" fill="none" stroke-linejoin="round"/><text x="410.50" y="478.27" text-anchor="middle" class="tl">0</text><text x="436.90" y="478.27" text-anchor="middle" class="tl">5</text><text x="463.30" y="478.27" text-anchor="middle" class="tl">10</text><text x="489.70" y="478.27" text-anchor="middle" class="tl">15</text><text x="516.10" y="478.27" text-anchor="middle" class="tl">20</text><text x="542.50" y="478.27" text-anchor="middle" class="tl">25</text><text x="408.80" y="466.42" text-anchor="end" class="tl">0.0</text><text x="408.80" y="446.83" text-anchor="end" class="tl">0.1</text><text x="408.80" y="423.89" text-anchor="end" class="tl">0.2</text><text x="408.80" y="400.95" text-anchor="end" class="tl">0.3</text><text x="408.80" y="378.01" text-anchor="end" class="tl">0.4</text><text x="408.80" y="357.42" text-anchor="end" class="tl">0.5</text><text x="473.50" y="495.50" class="xt" textLength="18.04" lengthAdjust="spacingAndGlyphs">M<tspan font-size="8" dy="2.4">A</tspan><tspan dy="-2.4"></tspan></text><text x="416.70" y="370.30" class="pl">(i)</text></g>
<g><path d="M50.50 627.20v-2.7M50.50 512.50v2.7M54.90 627.20v-1.6M54.90 512.50v1.6M59.30 627.20v-1.6M59.30 512.50v1.6M63.70 627.20v-1.6M63.70 512.50v1.6M68.10 627.20v-1.6M68.10 512.50v1.6M72.50 627.20v-2.7M72.50 512.50v2.7M76.90 627.20v-1.6M76.90 512.50v1.6M81.30 627.20v-1.6M81.30 512.50v1.6M85.70 627.20v-1.6M85.70 512.50v1.6M90.10 627.20v-1.6M90.10 512.50v1.6M94.50 627.20v-2.7M94.50 512.50v2.7M98.90 627.20v-1.6M98.90 512.50v1.6M103.30 627.20v-1.6M103.30 512.50v1.6M107.70 627.20v-1.6M107.70 512.50v1.6M112.10 627.20v-1.6M112.10 512.50v1.6M116.50 627.20v-2.7M116.50 512.50v2.7M120.90 627.20v-1.6M120.90 512.50v1.6M125.30 627.20v-1.6M125.30 512.50v1.6M129.70 627.20v-1.6M129.70 512.50v1.6M134.10 627.20v-1.6M134.10 512.50v1.6M138.50 627.20v-2.7M138.50 512.50v2.7M142.90 627.20v-1.6M142.90 512.50v1.6M147.30 627.20v-1.6M147.30 512.50v1.6M151.70 627.20v-1.6M151.70 512.50v1.6M156.10 627.20v-1.6M156.10 512.50v1.6M160.50 627.20v-2.7M160.50 512.50v2.7M164.90 627.20v-1.6M164.90 512.50v1.6M169.30 627.20v-1.6M169.30 512.50v1.6M173.70 627.20v-1.6M173.70 512.50v1.6M178.10 627.20v-1.6M178.10 512.50v1.6M182.50 627.20v-2.7M182.50 512.50v2.7M50.50 627.20h2.7M182.50 627.20h-2.7M50.50 621.47h1.6M182.50 621.47h-1.6M50.50 615.73h1.6M182.50 615.73h-1.6M50.50 610.00h1.6M182.50 610.00h-1.6M50.50 604.26h1.6M182.50 604.26h-1.6M50.50 598.53h2.7M182.50 598.53h-2.7M50.50 592.79h1.6M182.50 592.79h-1.6M50.50 587.06h1.6M182.50 587.06h-1.6M50.50 581.32h1.6M182.50 581.32h-1.6M50.50 575.59h1.6M182.50 575.59h-1.6M50.50 569.85h2.7M182.50 569.85h-2.7M50.50 564.12h1.6M182.50 564.12h-1.6M50.50 558.38h1.6M182.50 558.38h-1.6M50.50 552.65h1.6M182.50 552.65h-1.6M50.50 546.91h1.6M182.50 546.91h-1.6M50.50 541.18h2.7M182.50 541.18h-2.7M50.50 535.44h1.6M182.50 535.44h-1.6M50.50 529.71h1.6M182.50 529.71h-1.6M50.50 523.97h1.6M182.50 523.97h-1.6M50.50 518.24h1.6M182.50 518.24h-1.6M50.50 512.50h2.7M182.50 512.50h-2.7" stroke="#111" stroke-width="1.0" fill="none"/><rect x="50.5" y="512.5" width="132.0" height="114.7" fill="none" stroke="#111" stroke-width="1.2"/><path d="M51.6 599.5 L54.6 595.9 L57.1 573.6 L59.1 572.4 L61.9 561.5 L63.7 566.3 L66.7 594.7 L71.0 588.7 L74.0 609.8 L76.0 607.4 L78.2 614.7 L82.4 619.5 L84.3 618.9 L87.7 622.5 L92.3 623.2 L95.0 627.2 L101.4 627.2 L104.2 624.7 L106.9 627.2 L182.5 627.2" stroke="#000" stroke-width="1.3" fill="none" stroke-linejoin="round"/><path d="M51.3 583.4 L59.8 540.6 L67.8 579.0 L72.2 581.9 L76.5 598.5 L80.4 593.1 L84.6 607.5 L88.6 605.5 L92.3 606.4 L96.9 613.7 L101.4 616.5 L108.7 622.5 L113.3 622.5 L119.7 624.3 L127.0 626.1 L134.3 626.1 L145.2 627.2 L174.4 627.2" stroke="#f00" stroke-width="1.3" fill="none" stroke-linejoin="round"/><path d="M145.2 627.20H174.4" stroke="#f00" stroke-width="1.8" fill="none"/><text x="50.50" y="639.27" text-anchor="middle" class="tl">0.00</text><text x="72.50" y="639.27" text-anchor="middle" class="tl">0.05</text><text x="94.50" y="639.27" text-anchor="middle" class="tl">0.10</text><text x="116.50" y="639.27" text-anchor="middle" class="tl">0.15</text><text x="138.50" y="639.27" text-anchor="middle" class="tl">0.20</text><text x="160.50" y="639.27" text-anchor="middle" class="tl">0.25</text><text x="182.50" y="639.27" text-anchor="middle" class="tl">0.30</text><text x="48.80" y="627.42" text-anchor="end" class="tl">0.00</text><text x="48.80" y="602.10" text-anchor="end" class="tl">0.05</text><text x="48.80" y="573.42" text-anchor="end" class="tl">0.10</text><text x="48.80" y="544.75" text-anchor="end" class="tl">0.15</text><text x="48.80" y="518.42" text-anchor="end" class="tl">0.20</text><text x="106.70" y="654.00" class="xt">He/p</text><text x="55.30" y="531.30" class="pl">(j)</text></g>
<g><path d="M232.50 627.20v-2.7M232.50 512.50v2.7M237.78 627.20v-1.6M237.78 512.50v1.6M243.06 627.20v-1.6M243.06 512.50v1.6M248.34 627.20v-1.6M248.34 512.50v1.6M253.62 627.20v-1.6M253.62 512.50v1.6M258.90 627.20v-2.7M258.90 512.50v2.7M264.18 627.20v-1.6M264.18 512.50v1.6M269.46 627.20v-1.6M269.46 512.50v1.6M274.74 627.20v-1.6M274.74 512.50v1.6M280.02 627.20v-1.6M280.02 512.50v1.6M285.30 627.20v-2.7M285.30 512.50v2.7M290.58 627.20v-1.6M290.58 512.50v1.6M295.86 627.20v-1.6M295.86 512.50v1.6M301.14 627.20v-1.6M301.14 512.50v1.6M306.42 627.20v-1.6M306.42 512.50v1.6M311.70 627.20v-2.7M311.70 512.50v2.7M316.98 627.20v-1.6M316.98 512.50v1.6M322.26 627.20v-1.6M322.26 512.50v1.6M327.54 627.20v-1.6M327.54 512.50v1.6M332.82 627.20v-1.6M332.82 512.50v1.6M338.10 627.20v-2.7M338.10 512.50v2.7M343.38 627.20v-1.6M343.38 512.50v1.6M348.66 627.20v-1.6M348.66 512.50v1.6M353.94 627.20v-1.6M353.94 512.50v1.6M359.22 627.20v-1.6M359.22 512.50v1.6M364.50 627.20v-2.7M364.50 512.50v2.7M232.50 627.20h2.7M364.50 627.20h-2.7M232.50 623.38h1.6M364.50 623.38h-1.6M232.50 619.55h1.6M364.50 619.55h-1.6M232.50 615.73h1.6M364.50 615.73h-1.6M232.50 611.91h1.6M364.50 611.91h-1.6M232.50 608.08h2.7M364.50 608.08h-2.7M232.50 604.26h1.6M364.50 604.26h-1.6M232.50 600.44h1.6M364.50 600.44h-1.6M232.50 596.61h1.6M364.50 596.61h-1.6M232.50 592.79h1.6M364.50 592.79h-1.6M232.50 588.97h2.7M364.50 588.97h-2.7M232.50 585.14h1.6M364.50 585.14h-1.6M232.50 581.32h1.6M364.50 581.32h-1.6M232.50 577.50h1.6M364.50 577.50h-1.6M232.50 573.67h1.6M364.50 573.67h-1.6M232.50 569.85h2.7M364.50 569.85h-2.7M232.50 566.03h1.6M364.50 566.03h-1.6M232.50 562.20h1.6M364.50 562.20h-1.6M232.50 558.38h1.6M364.50 558.38h-1.6M232.50 554.56h1.6M364.50 554.56h-1.6M232.50 550.73h2.7M364.50 550.73h-2.7M232.50 546.91h1.6M364.50 546.91h-1.6M232.50 543.09h1.6M364.50 543.09h-1.6M232.50 539.26h1.6M364.50 539.26h-1.6M232.50 535.44h1.6M364.50 535.44h-1.6M232.50 531.62h2.7M364.50 531.62h-2.7M232.50 527.79h1.6M364.50 527.79h-1.6M232.50 523.97h1.6M364.50 523.97h-1.6M232.50 520.15h1.6M364.50 520.15h-1.6M232.50 516.32h1.6M364.50 516.32h-1.6M232.50 512.50h2.7M364.50 512.50h-2.7" stroke="#111" stroke-width="1.0" fill="none"/><rect x="232.5" y="512.5" width="132.0" height="114.7" fill="none" stroke="#111" stroke-width="1.2"/><path d="M233.0 601.4 L237.5 558.2 L242.5 546.6 L246.6 564.9 L251.6 574.8 L256.6 602.3 L261.6 610.6 L265.7 620.5 L269.9 615.0 L279.9 624.7 L284.7 625.5 L289.4 627.2 L311.4 626.0 L364.5 627.2" stroke="#000" stroke-width="1.3" fill="none" stroke-linejoin="round"/><path d="M233.0 572.3 L242.5 535.0 L251.6 565.7 L260.7 577.3 L270.7 591.5 L280.0 604.8 L294.1 612.7 L308.3 618.9 L320.8 622.4 L334.9 625.2 L347.5 625.8 L364.5 627.2" stroke="#f00" stroke-width="1.3" fill="none" stroke-linejoin="round"/><text x="232.50" y="639.27" text-anchor="middle" class="tl">0.0</text><text x="258.90" y="639.27" text-anchor="middle" class="tl">0.5</text><text x="285.30" y="639.27" text-anchor="middle" class="tl">1.0</text><text x="311.70" y="639.27" text-anchor="middle" class="tl">1.5</text><text x="338.10" y="639.27" text-anchor="middle" class="tl">2.0</text><text x="364.50" y="639.27" text-anchor="middle" class="tl">2.5</text><text x="230.80" y="627.42" text-anchor="end" class="tl">0.00</text><text x="230.80" y="611.66" text-anchor="end" class="tl">0.05</text><text x="230.80" y="592.54" text-anchor="end" class="tl">0.10</text><text x="230.80" y="573.42" text-anchor="end" class="tl">0.15</text><text x="230.80" y="554.31" text-anchor="end" class="tl">0.20</text><text x="230.80" y="535.19" text-anchor="end" class="tl">0.25</text><text x="230.80" y="518.42" text-anchor="end" class="tl">0.30</text><text x="273.30" y="657.40" class="xt">O<tspan font-size="9.5" dy="-5.4">+7</tspan><tspan dy="5.4">/O</tspan><tspan font-size="9.5" dy="-5.4">+6</tspan><tspan dy="5.4"></tspan></text><text x="236.80" y="530.20" class="pl">(k)</text></g>
<g><path d="M410.50 627.20v-2.7M410.50 512.50v2.7M414.90 627.20v-1.6M414.90 512.50v1.6M419.30 627.20v-1.6M419.30 512.50v1.6M423.70 627.20v-1.6M423.70 512.50v1.6M428.10 627.20v-2.7M428.10 512.50v2.7M432.50 627.20v-1.6M432.50 512.50v1.6M436.90 627.20v-1.6M436.90 512.50v1.6M441.30 627.20v-1.6M441.30 512.50v1.6M445.70 627.20v-2.7M445.70 512.50v2.7M450.10 627.20v-1.6M450.10 512.50v1.6M454.50 627.20v-1.6M454.50 512.50v1.6M458.90 627.20v-1.6M458.90 512.50v1.6M463.30 627.20v-2.7M463.30 512.50v2.7M467.70 627.20v-1.6M467.70 512.50v1.6M472.10 627.20v-1.6M472.10 512.50v1.6M476.50 627.20v-1.6M476.50 512.50v1.6M480.90 627.20v-2.7M480.90 512.50v2.7M485.30 627.20v-1.6M485.30 512.50v1.6M489.70 627.20v-1.6M489.70 512.50v1.6M494.10 627.20v-1.6M494.10 512.50v1.6M498.50 627.20v-2.7M498.50 512.50v2.7M502.90 627.20v-1.6M502.90 512.50v1.6M507.30 627.20v-1.6M507.30 512.50v1.6M511.70 627.20v-1.6M511.70 512.50v1.6M516.10 627.20v-2.7M516.10 512.50v2.7M520.50 627.20v-1.6M520.50 512.50v1.6M524.90 627.20v-1.6M524.90 512.50v1.6M529.30 627.20v-1.6M529.30 512.50v1.6M533.70 627.20v-2.7M533.70 512.50v2.7M538.10 627.20v-1.6M538.10 512.50v1.6M542.50 627.20v-1.6M542.50 512.50v1.6M410.50 627.20h2.7M542.50 627.20h-2.7M410.50 623.38h1.6M542.50 623.38h-1.6M410.50 619.55h1.6M542.50 619.55h-1.6M410.50 615.73h1.6M542.50 615.73h-1.6M410.50 611.91h1.6M542.50 611.91h-1.6M410.50 608.08h2.7M542.50 608.08h-2.7M410.50 604.26h1.6M542.50 604.26h-1.6M410.50 600.44h1.6M542.50 600.44h-1.6M410.50 596.61h1.6M542.50 596.61h-1.6M410.50 592.79h1.6M542.50 592.79h-1.6M410.50 588.97h2.7M542.50 588.97h-2.7M410.50 585.14h1.6M542.50 585.14h-1.6M410.50 581.32h1.6M542.50 581.32h-1.6M410.50 577.50h1.6M542.50 577.50h-1.6M410.50 573.67h1.6M542.50 573.67h-1.6M410.50 569.85h2.7M542.50 569.85h-2.7M410.50 566.03h1.6M542.50 566.03h-1.6M410.50 562.20h1.6M542.50 562.20h-1.6M410.50 558.38h1.6M542.50 558.38h-1.6M410.50 554.56h1.6M542.50 554.56h-1.6M410.50 550.73h2.7M542.50 550.73h-2.7M410.50 546.91h1.6M542.50 546.91h-1.6M410.50 543.09h1.6M542.50 543.09h-1.6M410.50 539.26h1.6M542.50 539.26h-1.6M410.50 535.44h1.6M542.50 535.44h-1.6M410.50 531.62h2.7M542.50 531.62h-2.7M410.50 527.79h1.6M542.50 527.79h-1.6M410.50 523.97h1.6M542.50 523.97h-1.6M410.50 520.15h1.6M542.50 520.15h-1.6M410.50 516.32h1.6M542.50 516.32h-1.6M410.50 512.50h2.7M542.50 512.50h-2.7" stroke="#111" stroke-width="1.0" fill="none"/><rect x="410.5" y="512.5" width="132.0" height="114.7" fill="none" stroke="#111" stroke-width="1.2"/><path d="M413.4 616.1 L416.8 565.8 L420.2 549.5 L423.6 546.8 L427.0 575.3 L430.4 603.2 L433.8 606.6 L440.6 622.9 L444.0 622.2 L447.4 623.6 L454.2 625.4 L458.0 625.9 L467.3 626.0 L542.5 627.2" stroke="#000" stroke-width="1.3" fill="none" stroke-linejoin="round"/><path d="M412.1 608.0 L417.2 555.6 L421.6 552.9 L425.7 563.1 L431.8 586.2 L437.2 595.7 L442.0 605.0 L446.7 600.5 L451.6 618.2 L458.7 621.7 L467.3 625.1 L476.0 626.3 L484.7 626.0 L493.3 627.2 L510.7 627.2 L542.5 627.2" stroke="#f00" stroke-width="1.3" fill="none" stroke-linejoin="round"/><path d="M493.3 627.20H510.7M510.7 627.20H542.5" stroke="#f00" stroke-width="1.8" fill="none"/><text x="410.50" y="639.27" text-anchor="middle" class="tl">0.0</text><text x="428.10" y="639.27" text-anchor="middle" class="tl">0.2</text><text x="445.70" y="639.27" text-anchor="middle" class="tl">0.4</text><text x="463.30" y="639.27" text-anchor="middle" class="tl">0.6</text><text x="480.90" y="639.27" text-anchor="middle" class="tl">0.8</text><text x="498.50" y="639.27" text-anchor="middle" class="tl">1.0</text><text x="516.10" y="639.27" text-anchor="middle" class="tl">1.2</text><text x="533.70" y="639.27" text-anchor="middle" class="tl">1.4</text><text x="408.80" y="627.42" text-anchor="end" class="tl">0.00</text><text x="408.80" y="611.66" text-anchor="end" class="tl">0.05</text><text x="408.80" y="592.54" text-anchor="end" class="tl">0.10</text><text x="408.80" y="573.42" text-anchor="end" class="tl">0.15</text><text x="408.80" y="554.31" text-anchor="end" class="tl">0.20</text><text x="408.80" y="535.19" text-anchor="end" class="tl">0.25</text><text x="408.80" y="518.42" text-anchor="end" class="tl">0.30</text><text x="462.10" y="655.20" class="xt">Fe/O</text><text x="414.20" y="529.70" class="pl">(l)</text></g>
</svg></body></html>
